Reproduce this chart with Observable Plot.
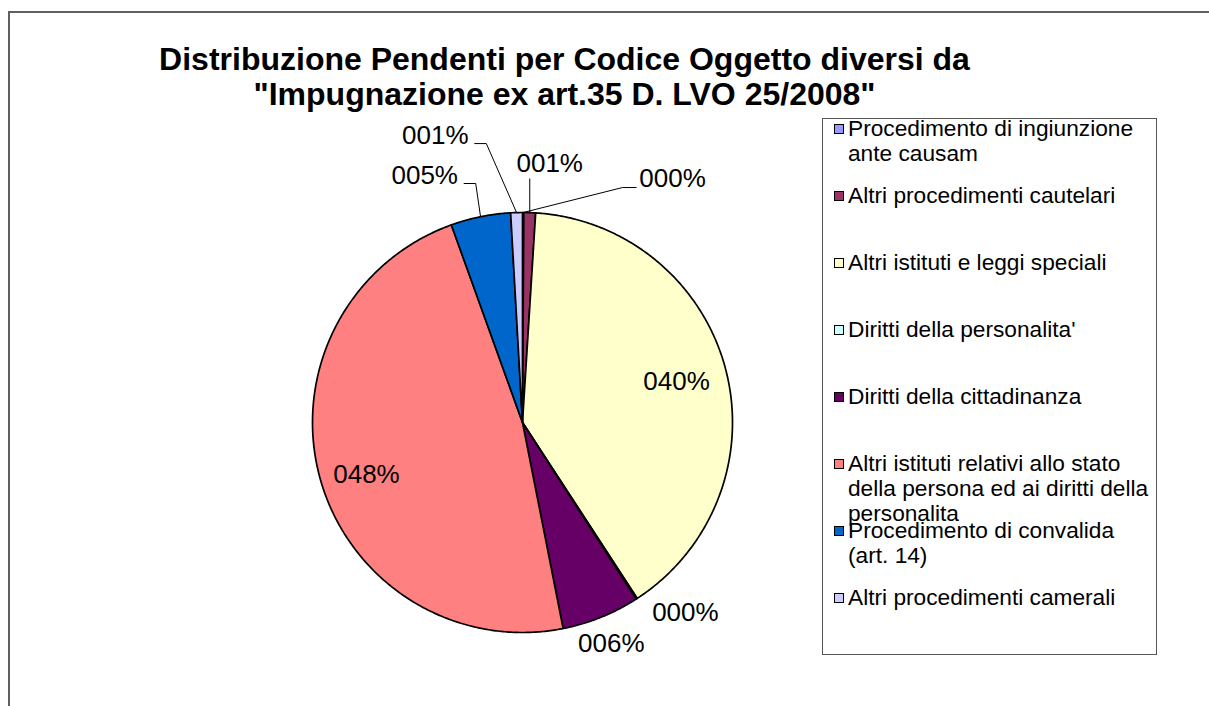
<!DOCTYPE html>
<html>
<head>
<meta charset="utf-8">
<script src="https://cdn.jsdelivr.net/npm/d3@7"></script>
<script src="https://cdn.jsdelivr.net/npm/@observablehq/plot@0.6"></script>
<style>
  html, body { margin: 0; padding: 0; background: #fff; }
  #wrap { position: relative; width: 1209px; height: 706px; overflow: hidden; font-family: "Liberation Sans", Arial, sans-serif; color: #000; }
  #frame { position: absolute; left: 8px; top: 11px; width: 1400px; height: 900px; border-top: 2px solid #606060; border-left: 2px solid #606060; }
  #chart { position: absolute; left: 0; top: 0; }
  #title { position: absolute; left: 0; top: 42px; width: 1129px; text-align: center; font-weight: bold; font-size: 32px; line-height: 35px; }
  #legend { position: absolute; left: 822px; top: 118px; width: 335px; height: 537px; border: 1px solid #555; box-sizing: border-box; }
  .entry { position: absolute; left: 11px; width: 320px; font-size: 22.7px; line-height: 25px; }
  .sw { position: absolute; left: 0; top: 8px; width: 8px; height: 8px; border: 1px solid #000; }
  .lt { position: absolute; left: 14px; top: 0; width: 306px; }
</style>
</head>
<body>
<div id="wrap">
  <div id="frame"></div>
  <div id="chart"></div>
  <div id="title"></div>
  <div id="legend"></div>
</div>
<script>
// ---- data ----
const titleLines = ["Distribuzione Pendenti per Codice Oggetto diversi da", "\"Impugnazione ex art.35 D. LVO 25/2008\""];
const categories = [
  "Procedimento di ingiunzione ante causam",
  "Altri procedimenti cautelari",
  "Altri istituti e leggi speciali",
  "Diritti della personalita'",
  "Diritti della cittadinanza",
  "Altri istituti relativi allo stato della persona ed ai diritti della personalita",
  "Procedimento di convalida (art. 14)",
  "Altri procedimenti camerali"
];
const values = [0.1, 0.9, 39.8, 0.1, 6.0, 47.6, 4.6, 0.9];
const colors = ["#9999FF", "#993366", "#FFFFCC", "#CCFFFF", "#660066", "#FF8080", "#0066CC", "#CCCCFF"];

// ---- layout (not data) ----
const W = 1209, H = 706;
const cx = 522, cy = 422, R = 210;
// label centre per slice: [angle in degrees clockwise from top, radius as multiple of R]
const labelAngle = [31.6, 6.0, 75.1, 139.4, 158.1, 251.6, 338.4, 343.1];
const labelRadius = [1.364, 1.240, 0.759, 1.192, 1.134, 0.783, 1.265, 1.428];
const hasLeader = [true, true, false, false, false, false, true, true];

// ---- derived ----
const total = d3.sum(values);
const rad = d => d * Math.PI / 180;
let acc = 0;
const slices = values.map((v, i) => {
  const a0 = acc / total * 2 * Math.PI;
  acc += v;
  const a1 = acc / total * 2 * Math.PI;
  return {cat: categories[i], a0, a1, mid: (a0 + a1) / 2, pct: v / total};
});
const slicePts = [];
slices.forEach(s => {
  slicePts.push({cat: s.cat, x: 0, y: 0});
  const n = Math.max(2, Math.ceil((s.a1 - s.a0) / rad(0.5)));
  for (let k = 0; k <= n; k++) {
    const a = s.a0 + (s.a1 - s.a0) * k / n;
    slicePts.push({cat: s.cat, x: Math.sin(a), y: Math.cos(a)});
  }
  slicePts.push({cat: s.cat, x: 0, y: 0});
});
const fmt = p => String(Math.round(p * 100)).padStart(3, "0") + "%";
const labels = slices.map((s, i) => ({
  x: labelRadius[i] * Math.sin(rad(labelAngle[i])),
  y: labelRadius[i] * Math.cos(rad(labelAngle[i])),
  text: fmt(s.pct)
}));
const px = p => p / R;
const halfW = px(33);
const leaders = [];
slices.forEach((s, i) => {
  if (!hasLeader[i]) return;
  const E = {x: Math.sin(s.mid), y: Math.cos(s.mid)};
  const L = labels[i];
  let pts;
  if (Math.abs(L.x - E.x) < halfW) {
    pts = [{x: E.x, y: L.y - px(15)}, E];
  } else if (L.x > E.x) {
    const end = {x: L.x - halfW - px(3), y: L.y - px(9)};
    pts = [end, {x: end.x - px(14), y: end.y}, E];
  } else {
    const end = {x: L.x + halfW + px(6), y: L.y - px(8)};
    pts = [end, {x: end.x + px(12), y: end.y}, E];
  }
  pts.forEach(p => leaders.push({id: i, x: p.x, y: p.y}));
});

const chart = Plot.plot({
  width: W, height: H, margin: 0,
  x: {domain: [-cx / R, (W - cx) / R], axis: null},
  y: {domain: [-(H - cy) / R, cy / R], axis: null},
  color: {domain: categories, range: colors},
  style: {background: "transparent", fontFamily: "'Liberation Sans', Arial, sans-serif"},
  marks: [
    Plot.line(slicePts, {x: "x", y: "y", z: "cat", fill: "cat", stroke: "#000", strokeWidth: 1.7, curve: "linear"}),
    Plot.line(leaders, {x: "x", y: "y", z: "id", stroke: "#000", strokeWidth: 1, strokeLinecap: "butt", strokeLinejoin: "miter"}),
    Plot.text(labels, {x: "x", y: "y", text: "text", fontSize: 26, fill: "#000"})
  ]
});
document.getElementById("chart").appendChild(chart);

// title
const t = document.getElementById("title");
titleLines.forEach(l => { const d = document.createElement("div"); d.textContent = l; t.appendChild(d); });

// legend
const lg = document.getElementById("legend");
categories.forEach((c, i) => {
  const e = document.createElement("div");
  e.className = "entry";
  e.style.top = (-3 + i * 67) + "px";
  const sw = document.createElement("div");
  sw.className = "sw";
  sw.style.background = colors[i];
  const tx = document.createElement("div");
  tx.className = "lt";
  tx.textContent = c;
  e.appendChild(sw); e.appendChild(tx);
  lg.appendChild(e);
});
</script>
</body>
</html>
